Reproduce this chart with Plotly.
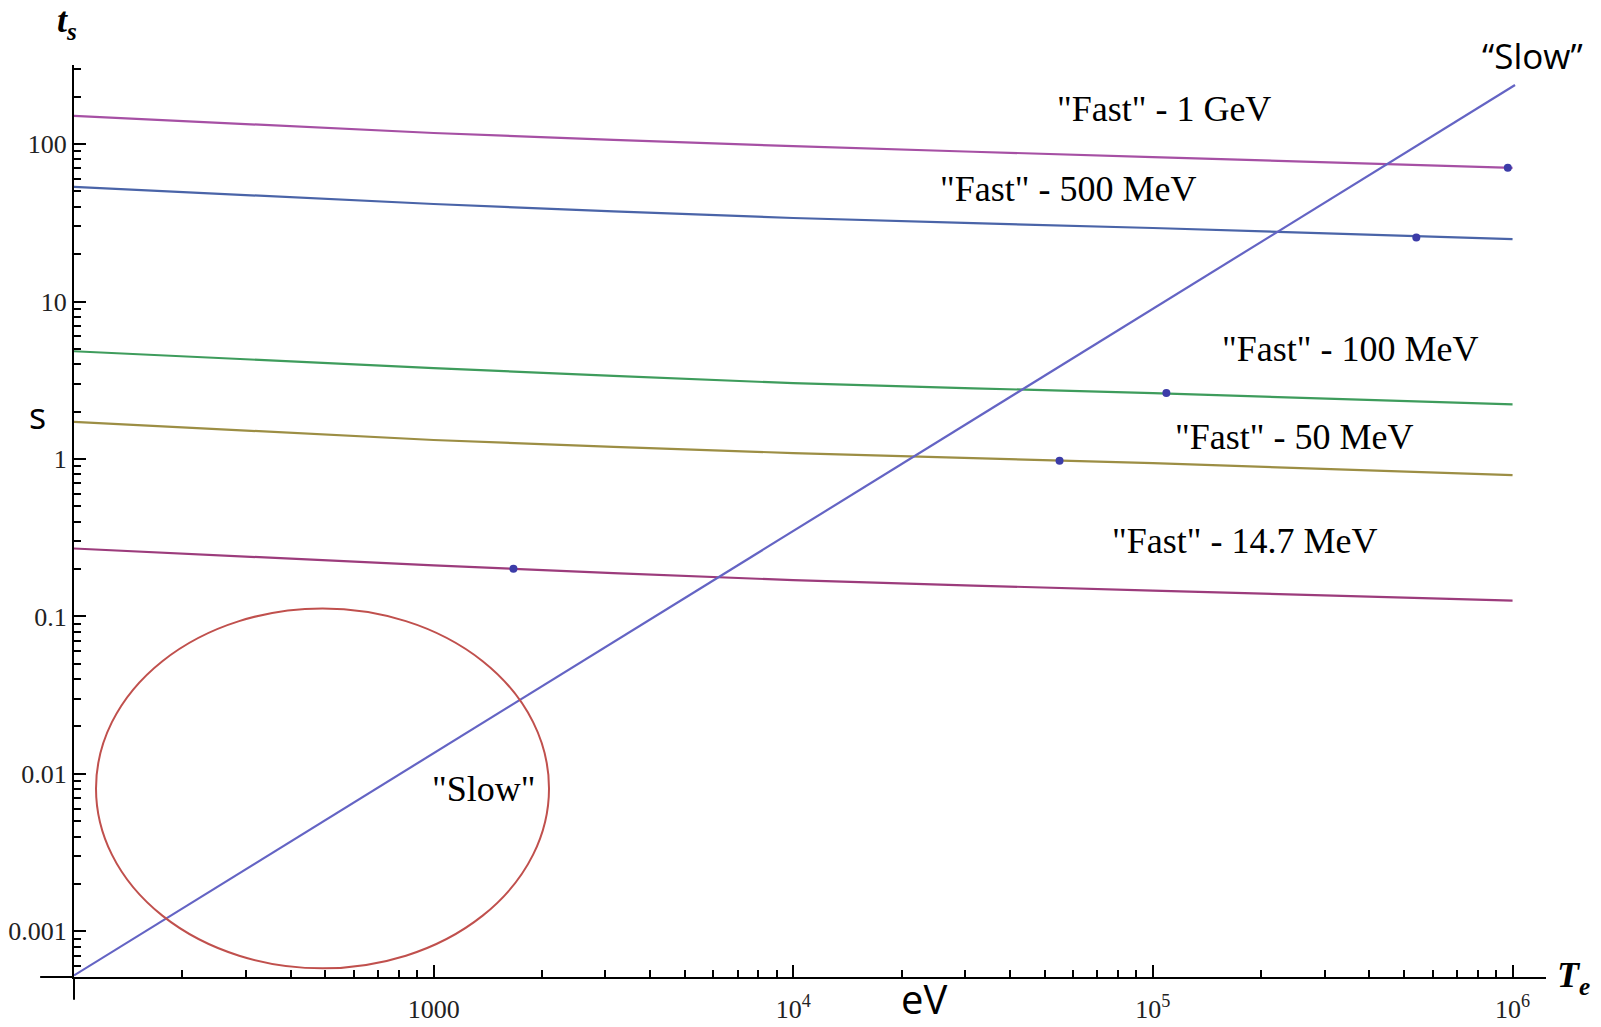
import plotly.graph_objects as go
import math

# ---- data ----
te_grid = [100, 1000, 1e4, 1e5, 1e6]           # eV
fast_1gev = [151, 117.5, 97, 82.6, 70.5]
fast_500mev = [53.5, 41.6, 33.9, 29.3, 24.9]
fast_100mev = [4.83, 3.78, 3.03, 2.62, 2.22]
fast_50mev = [1.72, 1.32, 1.09, 0.94, 0.79]
fast_14mev = [0.27, 0.211, 0.170, 0.146, 0.126]

slow_te = [100, 1.016e6]
slow_ts = [5.25e-4, 237]

dot_te = [9.7e5, 5.4e5, 1.09e5, 5.5e4, 1667]
dot_ts = [70.6, 25.5, 2.62, 0.975, 0.201]

series_names = ['"Fast" - 1 GeV', '"Fast" - 500 MeV', '"Fast" - 100 MeV',
                '"Fast" - 50 MeV', '"Fast" - 14.7 MeV']
series_vals = [fast_1gev, fast_500mev, fast_100mev, fast_50mev, fast_14mev]
series_colors = ["#A650A4", "#4A64A8", "#3E9C5C", "#9C8E44", "#9C3C7C"]

# label positions (log10 coordinates)
label_lx = [5.031, 4.764, 5.548, 5.393, 5.256]
label_ly = [2.222, 1.714, 0.698, 0.138, -0.522]

x_tickvals = [1000, 1e4, 1e5, 1e6]
x_ticktext = ["1000", "10<sup>4</sup>", "10<sup>5</sup>", "10<sup>6</sup>"]
y_tickvals = [0.001, 0.01, 0.1, 1, 10, 100]
y_ticktext = ["0.001", "0.01", "0.1", "1", "10", "100"]

serif = "Liberation Serif"
sans = "Open Sans"

fig = go.Figure()
for name, vals, col in zip(series_names, series_vals, series_colors):
    fig.add_trace(go.Scatter(x=te_grid, y=vals, mode="lines", name=name,
                             line=dict(color=col, width=2.2, shape="spline", smoothing=0.8),
                             showlegend=False))
fig.add_trace(go.Scatter(x=slow_te, y=slow_ts, mode="lines", name="Slow",
                         line=dict(color="#6464C4", width=2.2), showlegend=False))
fig.add_trace(go.Scatter(x=dot_te, y=dot_ts, mode="markers",
                         marker=dict(color="#3C3CA8", size=8), showlegend=False))

for name, lx, ly in zip(series_names, label_lx, label_ly):
    fig.add_annotation(x=lx, y=ly, xref="x", yref="y", text=name, showarrow=False,
                       xanchor="center", yanchor="middle",
                       font=dict(family=serif, size=36, color="black"))
fig.add_annotation(x=3.140, y=-2.098, xref="x", yref="y", text='"Slow"', showarrow=False,
                   xanchor="center", yanchor="middle",
                   font=dict(family=serif, size=36, color="black"))

# axis titles and added notes
def note(x, y, text, family, size, yanchor="middle"):
    fig.add_annotation(x=x, y=y, xref="paper", yref="paper", text=text, showarrow=False,
                       xanchor="center", yanchor=yanchor, borderpad=0,
                       font=dict(family=family, size=size, color="black"))

note(-0.0048, 1.072, "<b><i>t<sub>s</sub></i></b>", serif, 36, yanchor="top")
note(1.0185, 0.0, "<b><i>T<sub>e</sub></i></b>", serif, 36)
note(-0.0245, 0.616, "s", sans, 36)
note(0.5774, -0.0548, "eV", sans, 40, yanchor="bottom")
note(0.9905, 1.01, "\u201cSlow\u201d", sans, 35)

# red ellipse
fig.add_shape(type="circle", xref="paper", yref="paper",
              x0=0.01495, x1=0.3227, y0=0.0095, y1=0.4041,
              line=dict(color="#C0504D", width=2))
# axis extensions past the origin
fig.add_shape(type="line", xref="paper", yref="paper", x0=-0.023, x1=0, y0=0, y1=0,
              line=dict(color="black", width=2))
fig.add_shape(type="line", xref="paper", yref="paper", x0=0, x1=0, y0=-0.025, y1=0,
              line=dict(color="black", width=2))

fig.update_xaxes(type="log", range=[2, 6.093], showgrid=False, zeroline=False,
                 automargin=False,
                 showline=True, linecolor="black", linewidth=2,
                 ticks="inside", ticklen=12, tickwidth=2, tickcolor="black",
                 tickvals=x_tickvals, ticktext=x_ticktext, ticklabelstandoff=8,
                 tickfont=dict(family=serif, size=26, color="#222"),
                 minor=dict(ticks="inside", ticklen=7, tickwidth=1.5, tickcolor="black",
                            dtick="D1", showgrid=False))
fig.update_yaxes(type="log", range=[math.log10(5.13e-4), 2.502], showgrid=False,
                 zeroline=False, automargin=False,
                 showline=True, linecolor="black", linewidth=2,
                 ticks="inside", ticklen=12, tickwidth=2, tickcolor="black",
                 tickvals=y_tickvals, ticktext=y_ticktext,
                 tickfont=dict(family=serif, size=26, color="#222"),
                 minor=dict(ticks="inside", ticklen=7, tickwidth=1.5, tickcolor="black",
                            dtick="D1", showgrid=False))

fig.update_layout(width=1601, height=1027, autosize=False,
                  margin=dict(l=74, r=55, t=65, b=50),
                  plot_bgcolor="white", paper_bgcolor="white")

fig.write_html("out.html")
